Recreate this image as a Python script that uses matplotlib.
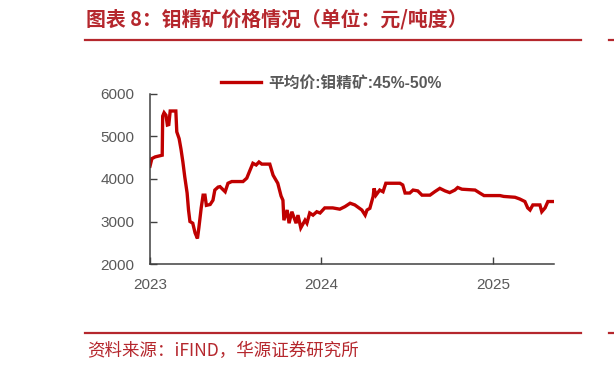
import matplotlib
matplotlib.use("Agg")
import matplotlib.pyplot as plt
from matplotlib.lines import Line2D
import pandas as pd

plt.rcParams['font.family'] = ['Liberation Sans', 'Noto Sans CJK SC', 'DejaVu Sans']

title = "图表 8：钼精矿价格情况（单位：元/吨度）"
source = "资料来源：iFIND，华源证券研究所"
series_name = "平均价:钼精矿:45%-50%"

dates = [
    "2023-01-01", "2023-01-05", "2023-01-12", "2023-01-27", "2023-01-28", "2023-01-31",
    "2023-02-04", "2023-02-07", "2023-02-10", "2023-02-13", "2023-02-25", "2023-02-27",
    "2023-03-04", "2023-03-08", "2023-03-12", "2023-03-16", "2023-03-21", "2023-03-24",
    "2023-03-27", "2023-04-02", "2023-04-07", "2023-04-12", "2023-04-15", "2023-04-20",
    "2023-04-24", "2023-04-28", "2023-05-01", "2023-05-09", "2023-05-15", "2023-05-19",
    "2023-05-26", "2023-05-30", "2023-06-10", "2023-06-16", "2023-06-24", "2023-07-18",
    "2023-07-26", "2023-08-02", "2023-08-08", "2023-08-15", "2023-08-21", "2023-08-27",
    "2023-09-13", "2023-09-20", "2023-09-30", "2023-10-07", "2023-10-11", "2023-10-13",
    "2023-10-20", "2023-10-24", "2023-10-30", "2023-11-08", "2023-11-12", "2023-11-18",
    "2023-11-27", "2023-12-01", "2023-12-07", "2023-12-14", "2023-12-22", "2023-12-29",
    "2024-01-08", "2024-01-25", "2024-02-09", "2024-02-20", "2024-03-02", "2024-03-12",
    "2024-03-27", "2024-04-03", "2024-04-07", "2024-04-13", "2024-04-20", "2024-04-22",
    "2024-04-26", "2024-05-04", "2024-05-11", "2024-05-17", "2024-06-16", "2024-06-22",
    "2024-06-27", "2024-07-07", "2024-07-14", "2024-07-24", "2024-08-02", "2024-08-19",
    "2024-08-29", "2024-09-09", "2024-09-20", "2024-09-30", "2024-10-11", "2024-10-17",
    "2024-10-26", "2024-11-23", "2024-12-03", "2024-12-12", "2025-01-15", "2025-01-23",
    "2025-02-16", "2025-02-26", "2025-03-09", "2025-03-15", "2025-03-20", "2025-03-26",
    "2025-04-10", "2025-04-14", "2025-04-21", "2025-04-27", "2025-05-08",
]
prices = [
    4300, 4480, 4520, 4560, 5480, 5560,
    5500, 5270, 5280, 5600, 5600, 5110,
    4950, 4700, 4400, 4050, 3670, 3270,
    3000, 2960, 2730, 2600, 2850, 3320,
    3620, 3620, 3380, 3400, 3500, 3740,
    3810, 3820, 3700, 3900, 3940, 3940,
    4020, 4210, 4370, 4330, 4400, 4350,
    4350, 4090, 3900, 3600, 3500, 3030,
    3270, 2960, 3230, 2960, 3150, 2850,
    3030, 2960, 3200, 3150, 3230, 3200,
    3320, 3320, 3290, 3350, 3430, 3390,
    3270, 3150, 3270, 3310, 3590, 3780,
    3620, 3740, 3700, 3900, 3900, 3860,
    3670, 3670, 3740, 3720, 3620, 3620,
    3700, 3780, 3720, 3680, 3740, 3800,
    3760, 3740, 3670, 3610, 3610, 3590,
    3570, 3530, 3470, 3320, 3270, 3390,
    3390, 3230, 3320, 3470, 3470,
]
y_ticks = [2000, 3000, 4000, 5000, 6000]
x_ticks = ["2023-01-01", "2024-01-01", "2025-01-01"]
x_tick_labels = ["2023", "2024", "2025"]

RED = "#C00000"
TITLE_RED = "#B5272D"
GRAY = "#595959"
AXIS = "#404040"

W, H = 614, 371
fig = plt.figure(figsize=(W / 100, H / 100), dpi=100)
ax = fig.add_axes([150 / W, 1 - 264 / H, (554 - 150) / W, (264 - 94) / H])

d = pd.to_datetime(dates)
ax.plot(d, prices, color=RED, lw=2.4, solid_joinstyle='miter')

ax.set_xlim(pd.Timestamp("2023-01-01"), pd.Timestamp("2025-05-10"))
ax.set_ylim(2000, 6000)
ax.set_yticks(y_ticks)
ax.set_yticklabels([str(v) for v in y_ticks])
ax.set_xticks(pd.to_datetime(x_ticks))
ax.set_xticklabels(x_tick_labels)

for s in ["top", "right"]:
    ax.spines[s].set_visible(False)
for s in ["left", "bottom"]:
    ax.spines[s].set_color(AXIS)
    ax.spines[s].set_linewidth(1.1)
ax.tick_params(axis='both', direction='in', length=5, width=1.0, color=AXIS,
               labelcolor=GRAY, labelsize=11)
ax.tick_params(axis='x', pad=10)
ax.tick_params(axis='y', pad=11)

handle = Line2D([], [], color=RED, lw=2.4)
leg = ax.legend([handle], [series_name], loc='center', bbox_to_anchor=(331.5 / W, 1 - 83 / H),
                bbox_transform=fig.transFigure, frameon=False, handlelength=2.55,
                handletextpad=0.45, borderpad=0, borderaxespad=0,
                prop={'weight': 'bold', 'size': 11.3})
for t in leg.get_texts():
    t.set_color(GRAY)

# title and decorative rules
fig.text(86 / W, 1 - 19 / H, title, color=TITLE_RED, fontsize=14.3, fontweight='bold',
         va='center', ha='left', family=['Noto Sans CJK SC', 'DejaVu Sans'])
fig.add_artist(Line2D([85 / W, 581 / W], [1 - 40 / H] * 2, color=TITLE_RED, lw=1.6))
fig.add_artist(Line2D([609 / W, 614 / W], [1 - 40 / H] * 2, color=TITLE_RED, lw=1.6))
fig.add_artist(Line2D([85 / W, 581 / W], [1 - 332.5 / H] * 2, color=TITLE_RED, lw=1.6))
fig.add_artist(Line2D([609 / W, 614 / W], [1 - 332.5 / H] * 2, color=TITLE_RED, lw=1.6))
fig.text(87 / W, 1 - 351 / H, source, color=TITLE_RED, fontsize=12.6, va='center', ha='left',
         family=['Noto Sans CJK SC', 'DejaVu Sans'])

fig.savefig("out.png", dpi=100)
